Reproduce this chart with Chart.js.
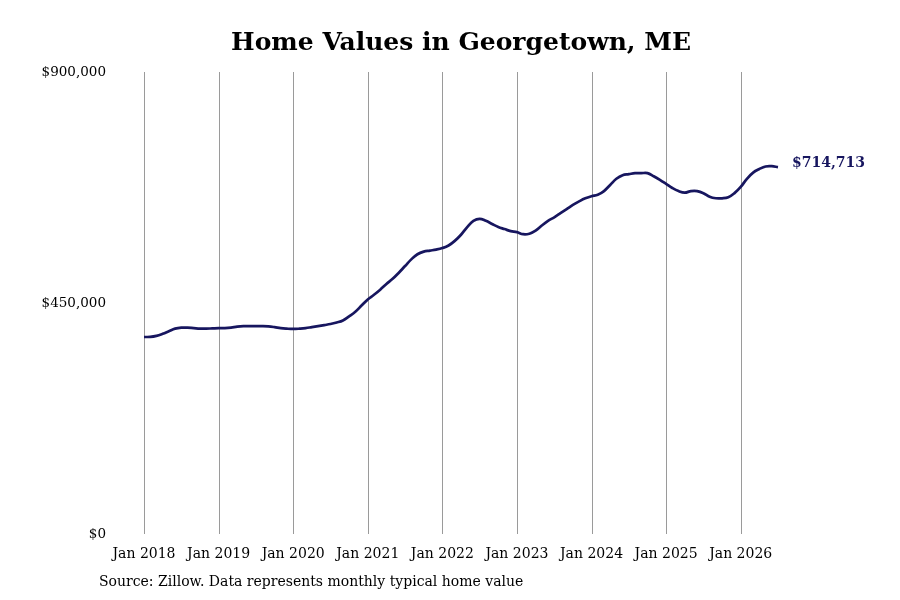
<!DOCTYPE html>
<html>
<head>
<meta charset="utf-8">
<script src="https://cdn.jsdelivr.net/npm/chart.js@4"></script>
<style>
  html, body { margin: 0; padding: 0; background: #fff; }
  #wrap { width: 900px; height: 600px; }
</style>
</head>
<body>
<div id="wrap"><canvas id="chart" width="900" height="600"></canvas></div>
<script>
// monthly typical home value, Jan 2018 .. Jul 2026
const years = [2018, 2019, 2020, 2021, 2022, 2023, 2024, 2025, 2026];
const monthNames = ['Jan', 'Feb', 'Mar', 'Apr', 'May', 'Jun', 'Jul', 'Aug', 'Sep', 'Oct', 'Nov', 'Dec'];
const values = [
  // 2018
  383800, 384000, 386000, 390000, 395000, 400000, 402000, 402000, 401000, 400000, 400000, 400500,
  // 2019
  401000, 401000, 402000, 404000, 405000, 405000, 405000, 405000, 404500, 403000, 401000, 400000,
  // 2020
  399500, 400000, 401000, 403000, 405000, 407000, 409000, 412000, 416000, 424000, 433000, 445000,
  // 2021
  457000, 466000, 476000, 487000, 497000, 509000, 522000, 535000, 545000, 550000, 552000, 554000,
  // 2022
  557000, 562000, 571000, 583000, 598000, 610000, 614000, 610000, 604000, 598000, 594000, 590000,
  // 2023
  588000, 584000, 585000, 591000, 601000, 610000, 617000, 625000, 633000, 641000, 648000, 654000,
  // 2024
  658000, 661000, 668000, 680000, 692000, 699000, 701000, 703000, 703000, 703000, 697000, 690000,
  // 2025
  682000, 674000, 668000, 665000, 668000, 668000, 664000, 657000, 654000, 654000, 656000, 664000,
  // 2026
  676000, 692000, 704000, 711000, 716000, 716500, 714713
];
const yTicks = [0, 450000, 900000];
const labels = values.map((v, i) => monthNames[i % 12] + ' ' + years[Math.floor(i / 12)]);

const title = 'Home Values in Georgetown, ME';
const source = 'Source: Zillow. Data represents monthly typical home value';
const serif = '"DejaVu Serif", serif';
const lineColor = '#17165f';

const money = v => '$' + v.toLocaleString('en-US');

// vertical lines at every January, placed by the x scale
const janLines = {
  id: 'janLines',
  beforeDatasetsDraw(chart) {
    const ctx = chart.ctx;
    const area = chart.chartArea;
    const x = chart.scales.x;
    ctx.save();
    ctx.strokeStyle = '#9a9a9a';
    ctx.lineWidth = 1;
    labels.forEach((l, i) => {
      if (i % 12 !== 0) return;
      const px = Math.round(x.getPixelForValue(i)) + 0.5;
      ctx.beginPath();
      ctx.moveTo(px, area.top);
      ctx.lineTo(px, area.bottom);
      ctx.stroke();
    });
    ctx.restore();
  }
};

// title, source line and end label drawn on the canvas
const extras = {
  id: 'extras',
  afterDraw(chart) {
    const ctx = chart.ctx;
    const area = chart.chartArea;
    ctx.save();
    ctx.fillStyle = '#000';
    ctx.font = 'bold 25px ' + serif;
    ctx.textAlign = 'center';
    ctx.textBaseline = 'middle';
    ctx.fillText(title, (area.left + area.right) / 2, 43);

    ctx.font = '14px ' + serif;
    ctx.textAlign = 'left';
    ctx.fillText(source, 99, 582);

    const meta = chart.getDatasetMeta(0);
    const last = meta.data[meta.data.length - 1];
    ctx.fillStyle = lineColor;
    ctx.font = 'bold 14px ' + serif;
    ctx.fillText(money(values[values.length - 1]), last.x + 14, last.y - 4);
    ctx.restore();
  }
};

new Chart(document.getElementById('chart'), {
  type: 'line',
  data: {
    labels: labels,
    datasets: [{
      data: values,
      borderColor: lineColor,
      borderWidth: 2.7,
      pointRadius: 0,
      tension: 0.4,
      fill: false
    }]
  },
  options: {
    responsive: false,
    animation: false,
    layout: { padding: { top: 72, right: 122, bottom: 0, left: 0 } },
    plugins: {
      legend: { display: false },
      title: { display: false },
      tooltip: { enabled: false }
    },
    scales: {
      x: {
        border: { display: false },
        grid: { display: false },
        ticks: {
          autoSkip: false,
          maxRotation: 0,
          padding: 4,
          color: '#000',
          font: { family: serif, size: 14 },
          callback: (v, i) => (i % 12 === 0 ? labels[i] : null)
        },
        afterFit: s => { s.height = 66; }
      },
      y: {
        min: 0,
        max: 900000,
        border: { display: false },
        grid: { display: false },
        afterBuildTicks: s => { s.ticks = yTicks.map(v => ({ value: v })); },
        ticks: {
          padding: 30,
          color: '#000',
          font: { family: serif, size: 13.5 },
          callback: v => money(v)
        },
        afterFit: s => { s.width = 144; }
      }
    }
  },
  plugins: [janLines, extras]
});
</script>
</body>
</html>
